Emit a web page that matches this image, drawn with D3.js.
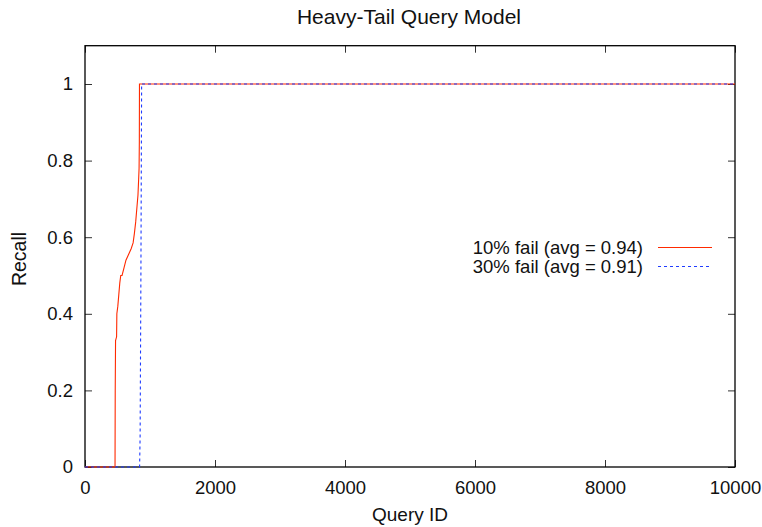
<!DOCTYPE html>
<html><head><meta charset="utf-8">
<script src="https://cdn.jsdelivr.net/npm/d3@7"></script>
<style>body{margin:0;background:#fff}svg{display:block}text{font-family:"Liberation Sans",Arial,sans-serif;fill:#111}</style>
</head><body>
<script>
const title = "Heavy-Tail Query Model";
const xLabel = "Query ID";
const yLabel = "Recall";
const xTicks = [0, 2000, 4000, 6000, 8000, 10000];
const yTicks = [0, 0.2, 0.4, 0.6, 0.8, 1];
const seriesNames = ["10% fail (avg = 0.94)", "30% fail (avg = 0.91)"];
const fail10Query = [0, 462, 465, 470, 486, 490, 505, 520, 535, 550, 570, 600, 630, 670, 710, 740, 760, 780, 800, 815, 825, 832, 836, 838, 10000];
const fail10Recall = [0, 0, 0.20, 0.33, 0.34, 0.40, 0.42, 0.45, 0.48, 0.50, 0.50, 0.52, 0.54, 0.555, 0.57, 0.585, 0.61, 0.64, 0.68, 0.71, 0.75, 0.78, 0.85, 1.0, 1.0];
const fail30Query = [0, 840, 848, 860, 871, 10000];
const fail30Recall = [0, 0, 0.08, 0.5, 1.0, 1.0];

const W = 762, H = 527;
const m = {l: 85, r: 735, t: 45.7, b: 467};
const x = d3.scaleLinear().domain([0, 10000]).range([m.l, m.r]);
const y = d3.scaleLinear().domain([0, 1.1]).range([m.b, m.t]);

const svg = d3.select("body").append("svg").attr("width", W).attr("height", H);

const fs = 18.5;
const gx = svg.append("g").attr("transform", `translate(0,${m.b})`)
  .call(d3.axisBottom(x).tickValues(xTicks).tickFormat(d3.format("d")).tickSizeInner(-7).tickSizeOuter(0).tickPadding(14));
const gxTop = svg.append("g").attr("transform", `translate(0,${m.t})`)
  .call(d3.axisTop(x).tickValues(xTicks).tickFormat("").tickSizeInner(-7).tickSizeOuter(0));
const gy = svg.append("g").attr("transform", `translate(${m.l},0)`)
  .call(d3.axisLeft(y).tickValues(yTicks).tickFormat(d => d3.format("")(+d.toFixed(1))).tickSizeInner(-7).tickSizeOuter(0).tickPadding(12));
const gyR = svg.append("g").attr("transform", `translate(${m.r},0)`)
  .call(d3.axisRight(y).tickValues(yTicks).tickFormat("").tickSizeInner(-7).tickSizeOuter(0));
[gx, gxTop, gy, gyR].forEach(g => {
  g.select(".domain").remove();
  g.selectAll("line").attr("stroke", "#333");
  g.selectAll("text").attr("font-size", fs).attr("font-family", '"Liberation Sans",Arial,sans-serif').attr("fill", "#111");
});
gx.selectAll("text").attr("dy", "0.71em");

svg.append("rect").attr("x", m.l).attr("y", m.t).attr("width", m.r - m.l).attr("height", m.b - m.t)
  .attr("fill", "none").attr("stroke", "#000").attr("stroke-width", 1.3);

const line = d3.line().x(d => x(d[0])).y(d => y(d[1]));
const d10 = fail10Query.map((q, i) => [q, fail10Recall[i]]);
const d30 = fail30Query.map((q, i) => [q, fail30Recall[i]]);
svg.append("path").datum(d10).attr("d", line).attr("fill", "none").attr("stroke", "#ff2a00").attr("stroke-width", 1.1);
svg.append("path").datum(d30).attr("d", line).attr("fill", "none").attr("stroke", "#1f3cff").attr("stroke-width", 1.1).attr("stroke-dasharray", "3,3");

const colors = ["#ff2a00", "#1f3cff"];
const dashes = ["none", "3,3"];
seriesNames.forEach((s, i) => {
  const ly = 247.5 + i * 19;
  svg.append("text").attr("x", 643).attr("y", ly).attr("dy", "0.35em").attr("text-anchor", "end").attr("font-size", fs).text(s);
  svg.append("line").attr("x1", 658).attr("x2", 712).attr("y1", ly).attr("y2", ly)
    .style("stroke", colors[i]).attr("stroke-width", 1.2).attr("stroke-dasharray", dashes[i]);
});

svg.append("text").attr("x", 409).attr("y", 23.5).attr("text-anchor", "middle").attr("font-size", 21).text(title);
svg.append("text").attr("x", 410).attr("y", 521).attr("text-anchor", "middle").attr("font-size", 19).text(xLabel);
svg.append("text").attr("transform", "translate(25.5,259) rotate(-90)").attr("text-anchor", "middle").attr("font-size", 19.5).text(yLabel);
</script>
</body></html>
